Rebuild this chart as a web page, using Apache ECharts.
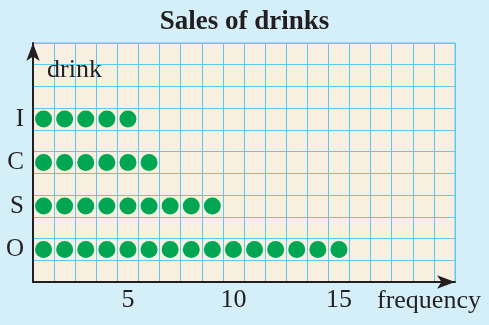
<!DOCTYPE html>
<html>
<head>
<meta charset="utf-8">
<script src="https://cdn.jsdelivr.net/npm/echarts@6/dist/echarts.min.js"></script>
<style>
html,body{margin:0;padding:0;background:#d5eff9;}
#chart{width:489px;height:325px;}
</style>
</head>
<body>
<div id="chart"></div>
<script>
// Data
var drinks = ['I', 'C', 'S', 'O'];
var frequencies = [5, 6, 9, 15];
var xCategories = ['1','2','3','4','5','6','7','8','9','10','11','12','13','14','15','16','17','18','19','20'];
var xTickLabels = ['5', '10', '15'];
// rows from bottom to top (blank rows are spacing rows)
var yRows = [' ', 'O', '  ', 'S', '   ', 'C', '    ', 'I', '     ', '      ', '       '];

var points = [];
drinks.forEach(function (d, i) {
  for (var k = 1; k <= frequencies[i]; k++) {
    points.push([String(k), d]);
  }
});

var serif = '"Liberation Serif", "DejaVu Serif", serif';
var ink = '#231f20';
var gridBlue = '#5ec8f0';

var chart = echarts.init(document.getElementById('chart'), null, {renderer: 'canvas'});
chart.setOption({
  backgroundColor: '#d5eff9',
  animation: false,
  title: [
    {text: 'Sales of drinks', left: 'center', top: 9, padding: 0,
     textStyle: {fontFamily: serif, fontWeight: 'bold', fontSize: 27, color: ink}},
    {text: 'drink', left: 47, top: 57, padding: 0,
     textStyle: {fontFamily: serif, fontWeight: 'normal', fontSize: 26, color: ink}},
    {text: 'frequency', left: 377, top: 288, padding: 0,
     textStyle: {fontFamily: serif, fontWeight: 'normal', fontSize: 26, color: ink}}
  ],
  grid: {left: 33, right: 34, top: 43, bottom: 43, show: true, containLabel: false,
         outerBoundsMode: 'none',
         backgroundColor: '#f7f0e1', borderColor: gridBlue, borderWidth: 1},
  xAxis: {
    type: 'category',
    data: xCategories,
    boundaryGap: true,
    axisLine: {show: true, lineStyle: {color: ink, width: 2},
               symbol: ['none', 'arrow'], symbolSize: [10, 18], symbolOffset: [0, 0]},
    axisTick: {show: false},
    axisLabel: {
      interval: 0, margin: 5,
      fontFamily: serif, fontSize: 26, color: ink,
      formatter: function (v) { return xTickLabels.indexOf(v) >= 0 ? v : ''; }
    },
    splitLine: {show: true, interval: 0, lineStyle: {color: gridBlue, width: 1, opacity: 1}}
  },
  yAxis: {
    type: 'category',
    data: yRows,
    boundaryGap: true,
    axisLine: {show: true, lineStyle: {color: ink, width: 2},
               symbol: ['none', 'arrow'], symbolSize: [10, 18], symbolOffset: [0, 0]},
    axisTick: {show: false},
    axisLabel: {interval: 0, margin: 9, fontFamily: serif, fontSize: 25, color: ink},
    splitLine: {show: true, interval: 0, lineStyle: {color: gridBlue, width: 1}}
  },
  series: [{
    type: 'scatter',
    data: points,
    symbol: 'circle',
    symbolSize: 17,
    itemStyle: {color: '#00a651', opacity: 1},
    z: 3
  }]
});
</script>
</body>
</html>
